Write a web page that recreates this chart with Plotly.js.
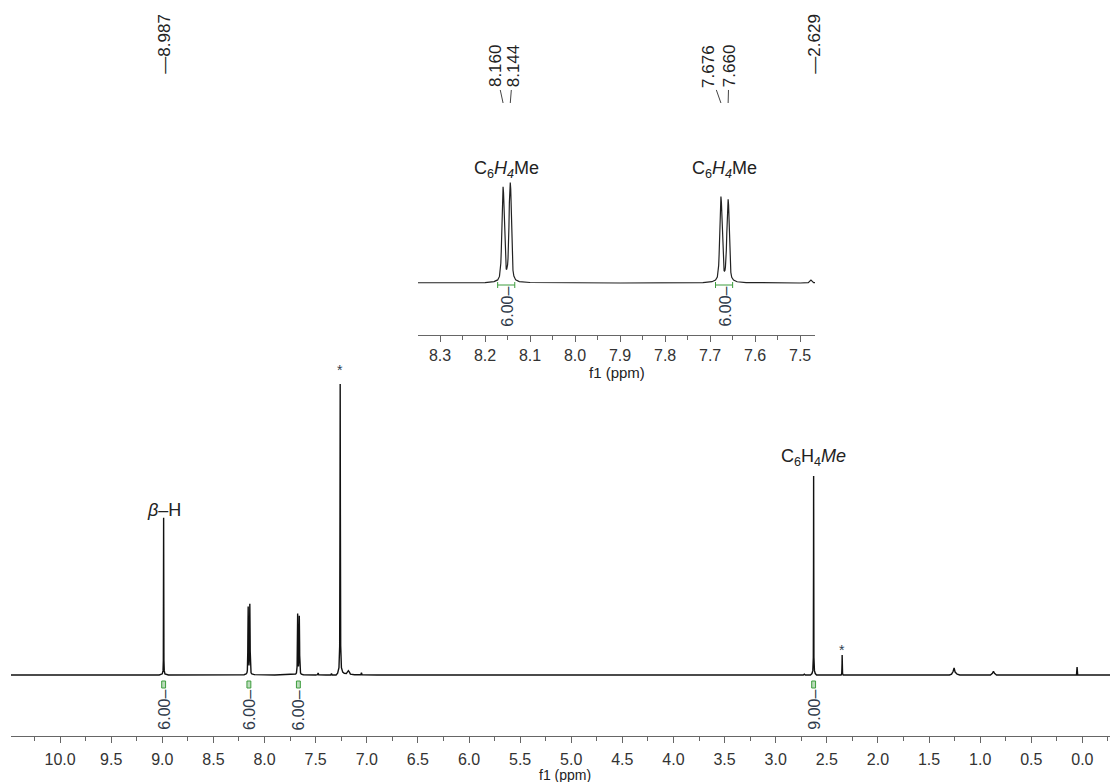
<!DOCTYPE html>
<html>
<head>
<meta charset="utf-8">
<script src="https://cdn.plot.ly/plotly-3.0.1.min.js"></script>
<style>html,body{margin:0;padding:0;background:#fff;}#chart{width:1110px;height:782px;}</style>
</head>
<body>
<div id="chart"></div>
<script>
// ---- spectrum (chemical shift in ppm, relative intensity; CDCl3 = 100) ----
const ppm = [
  10.48, 9.60, 9.03, 9.00, 8.993, 8.990, 8.988, 8.987, 8.986, 8.984, 8.981, 8.974, 8.94, 8.60,
  8.20, 8.18, 8.172, 8.168, 8.166, 8.165, 8.164, 8.163, 8.162, 8.161, 8.160, 8.159, 8.158, 8.157,
  8.156, 8.155, 8.154, 8.153, 8.152, 8.151, 8.150, 8.149, 8.148, 8.147, 8.146, 8.145, 8.144, 8.143,
  8.142, 8.141, 8.140, 8.139, 8.138, 8.136, 8.132, 8.124, 8.10, 7.90,
  7.716, 7.696, 7.688, 7.684, 7.682, 7.681, 7.680, 7.679, 7.678, 7.677, 7.676, 7.675, 7.674, 7.673,
  7.672, 7.671, 7.670, 7.669, 7.668, 7.667, 7.666, 7.665, 7.664, 7.663, 7.662, 7.661, 7.660, 7.659,
  7.658, 7.657, 7.656, 7.655, 7.654, 7.652, 7.648, 7.640, 7.620,
  7.50, 7.482, 7.476, 7.470, 7.40, 7.352, 7.345, 7.338, 7.30, 7.285, 7.272, 7.265, 7.262, 7.260,
  7.258, 7.255, 7.248, 7.235, 7.22, 7.20, 7.19, 7.18, 7.17, 7.16, 7.12, 7.058, 7.052, 7.046, 6.90,
  5.20, 3.00, 2.73, 2.72, 2.71, 2.66, 2.645, 2.637, 2.632, 2.630, 2.629, 2.628, 2.626, 2.621, 2.613,
  2.60, 2.55, 2.54, 2.36, 2.354, 2.351, 2.350, 2.349, 2.346, 2.34, 2.08, 2.06, 2.04,
  1.30, 1.28, 1.265, 1.255, 1.245, 1.225, 1.20, 0.90, 0.88, 0.87, 0.86, 0.84,
  0.058, 0.052, 0.046, -0.27
];
const intensity = [
  0, 0, 0, 0.4, 1.5, 5, 30, 54, 30, 5, 1.5, 0.4, 0, 0,
  0.1, 0.35, 0.75, 1.6, 3.0, 4.8, 7.8, 12.5, 18.6, 22.1, 23.5, 22.1, 18.7, 12.9,
  8.3, 5.4, 3.7, 3.4, 3.3, 3.6, 4.4, 6.0, 8.9, 13.6, 19.6, 23.2, 24.5, 23.0,
  19.3, 13.0, 8.1, 5.0, 3.1, 1.7, 0.75, 0.35, 0.12, 0,
  0.1, 0.32, 0.7, 1.45, 2.7, 4.3, 7.0, 11.2, 16.7, 19.8, 21.1, 19.8, 16.8, 11.6,
  7.5, 4.9, 3.4, 3.0, 2.9, 3.1, 3.9, 5.4, 8.0, 12.0, 16.8, 19.4, 20.4, 19.1,
  16.0, 10.8, 6.7, 4.2, 2.6, 1.4, 0.7, 0.3, 0.1,
  0, 0.1, 0.7, 0.1, 0, 0, 0.5, 0, 0, 0.6, 2.5, 10, 55, 100,
  55, 10, 2.5, 1.0, 0.6, 0.5, 1.2, 1.5, 1.0, 0.3, 0.1, 0.1, 0.8, 0.1, 0,
  0, 0, 0, 0.3, 0, 0, 0.5, 1.5, 6, 38, 68.4, 38, 6, 1.5, 0.5,
  0, 0.2, 0, 0, 0.5, 4, 6.9, 4, 0.5, 0, 0, 0.25, 0,
  0, 0.3, 1.2, 2.4, 1.0, 0.3, 0, 0, 0.6, 1.3, 0.6, 0,
  0, 2.7, 0, 0
];

// ---- peak picking labels ----
const shiftLabels = ['8.987', '8.160', '8.144', '7.676', '7.660', '2.629'];
const shiftValues = [8.987, 8.160, 8.144, 7.676, 7.660, 2.629];

// ---- integrals ----
const integralValues = ['6.00', '6.00', '6.00', '9.00'];
const integralCenters = [8.987, 8.152, 7.668, 2.629];
const integralFrom = [9.006, 8.172, 7.688, 2.648];
const integralTo = [8.968, 8.134, 7.650, 2.610];

// ---- axis ranges ----
const mainRange = [10.48, -0.27];
const insetRange = [8.349, 7.467];

// ---- layout helpers (pixel -> paper) ----
const L = 11, W = 1099, H = 736;
const px = x => (x - L) / W;
const py = y => (H - y) / H;

const FONT = 'Liberation Sans, Arial, Helvetica, sans-serif';
const TXT = '#222';
const AX = '#666';

const traces = [
  {x: ppm, y: intensity, xaxis: 'x', yaxis: 'y', type: 'scatter', mode: 'lines',
   line: {color: '#111', width: 1.4}, hoverinfo: 'skip'},
  {x: ppm, y: intensity, xaxis: 'x2', yaxis: 'y2', type: 'scatter', mode: 'lines',
   line: {color: '#222', width: 1.2}, hoverinfo: 'skip'}
];

const annotations = [];
const shapes = [];
const ann = o => annotations.push(Object.assign({xanchor: 'center', yanchor: 'middle', showarrow: false}, o));

// top shift labels: singlets directly above main peaks
[0, 5].forEach(i => {
  ann({x: shiftValues[i], xref: 'x', y: py(44), yref: 'paper',
    text: '\u2014' + shiftLabels[i], textangle: -90,
    font: {family: FONT, size: 17, color: TXT}});
});
// doublets: labels connected to inset peak positions
const doubletOffsets = {1: -8, 2: 3, 3: -13, 4: 1};
[1, 2, 3, 4].forEach(i => {
  ann({x: shiftValues[i], xref: 'x2', y: py(103), yref: 'paper',
    text: shiftLabels[i], textangle: -90, showarrow: true, arrowhead: 0, arrowwidth: 1,
    arrowcolor: '#444', standoff: 0, startstandoff: 1, ax: doubletOffsets[i], ay: -37,
    font: {family: FONT, size: 17, color: TXT}});
});

// integrals, main spectrum
for (let k = 0; k < integralValues.length; k++) {
  shapes.push({type: 'rect', xref: 'x', yref: 'paper', x0: integralFrom[k], x1: integralTo[k],
    y0: py(688), y1: py(681), line: {color: '#3c9c3c', width: 1}, fillcolor: 'rgba(60,156,60,0.35)'});
  ann({x: integralCenters[k], xref: 'x', y: py(710), yref: 'paper',
    text: integralValues[k] + '\u2013', textangle: -90,
    font: {family: FONT, size: 16, color: '#2f3a4a'}});
}
// integrals, inset (the two aromatic doublets)
[1, 2].forEach(k => {
  shapes.push({type: 'line', xref: 'x2', yref: 'paper', x0: integralFrom[k], x1: integralTo[k],
    y0: py(285), y1: py(285), line: {color: '#3c9c3c', width: 1}});
  shapes.push({type: 'line', xref: 'x2', yref: 'paper', x0: integralFrom[k], x1: integralFrom[k],
    y0: py(282), y1: py(288), line: {color: '#3c9c3c', width: 1}});
  shapes.push({type: 'line', xref: 'x2', yref: 'paper', x0: integralTo[k], x1: integralTo[k],
    y0: py(282), y1: py(288), line: {color: '#3c9c3c', width: 1}});
  ann({x: integralCenters[k], xref: 'x2', y: py(307), yref: 'paper',
    text: integralValues[k] + '\u2013', textangle: -90,
    font: {family: FONT, size: 16, color: '#2f3a4a'}});
});

// assignments
ann({x: 8.987, xref: 'x', y: py(510), yref: 'paper', text: '<i>\u03b2</i>\u2013H',
  font: {family: FONT, size: 18, color: TXT}});
ann({x: 2.629, xref: 'x', y: py(458), yref: 'paper', text: 'C<sub>6</sub>H<sub>4</sub><i>Me</i>',
  font: {family: FONT, size: 18, color: TXT}});
ann({x: 8.152, xref: 'x2', y: py(170), yref: 'paper', text: 'C<sub>6</sub><i>H<sub>4</sub></i>Me',
  font: {family: FONT, size: 18, color: TXT}});
ann({x: 7.668, xref: 'x2', y: py(170), yref: 'paper', text: 'C<sub>6</sub><i>H<sub>4</sub></i>Me',
  font: {family: FONT, size: 18, color: TXT}});
// solvent / impurity stars
ann({x: 7.260, xref: 'x', y: py(370), yref: 'paper', text: '*',
  font: {family: FONT, size: 14, color: '#2c3e50'}});
ann({x: 2.350, xref: 'x', y: py(650), yref: 'paper', text: '*',
  font: {family: FONT, size: 14, color: '#2c3e50'}});
// axis titles
ann({x: px(565), xref: 'paper', y: py(775), yref: 'paper', text: 'f1 (ppm)',
  font: {family: FONT, size: 14, color: TXT}});
ann({x: 0.5, xref: 'x2 domain', y: py(372), yref: 'paper', text: 'f1 (ppm)',
  font: {family: FONT, size: 15, color: TXT}});

const axisCommon = {
  showline: true, linecolor: AX, linewidth: 1, ticks: 'outside', ticklen: 6, tickwidth: 1,
  tickcolor: AX, showgrid: false, zeroline: false, tickformat: '.1f',
  tickfont: {family: FONT, size: 16, color: '#333'}, fixedrange: true
};

const layout = {
  width: 1110, height: 782,
  margin: {l: L, r: 0, t: 0, b: 46, pad: 0},
  paper_bgcolor: '#fff', plot_bgcolor: 'rgba(0,0,0,0)',
  showlegend: false, hovermode: false,
  font: {family: FONT, color: TXT},
  xaxis: Object.assign({}, axisCommon, {range: mainRange, autorange: false, domain: [0, 1], anchor: 'y',
    tick0: 0, dtick: 0.5, ticklabelstandoff: 3,
    minor: {dtick: 0.25, tick0: 0, ticks: 'outside', ticklen: 4, tickcolor: AX, showgrid: false}}),
  yaxis: {range: [-20.96, 231.96], domain: [0, 1], visible: false, fixedrange: true},
  xaxis2: Object.assign({}, axisCommon, {range: insetRange, autorange: false,
    domain: [px(418), px(815)], anchor: 'y2', tick0: 7.5, dtick: 0.1, ticklabelstandoff: 0,
    minor: {dtick: 0.05, tick0: 7.5, ticks: 'outside', ticklen: 4, tickcolor: AX, showgrid: false}}),
  yaxis2: {range: [-12.69, 32.45], domain: [py(335), py(150)], anchor: 'x2', visible: false, fixedrange: true},
  annotations: annotations,
  shapes: shapes
};

Plotly.newPlot('chart', traces, layout, {staticPlot: true, displayModeBar: false});
</script>
</body>
</html>
